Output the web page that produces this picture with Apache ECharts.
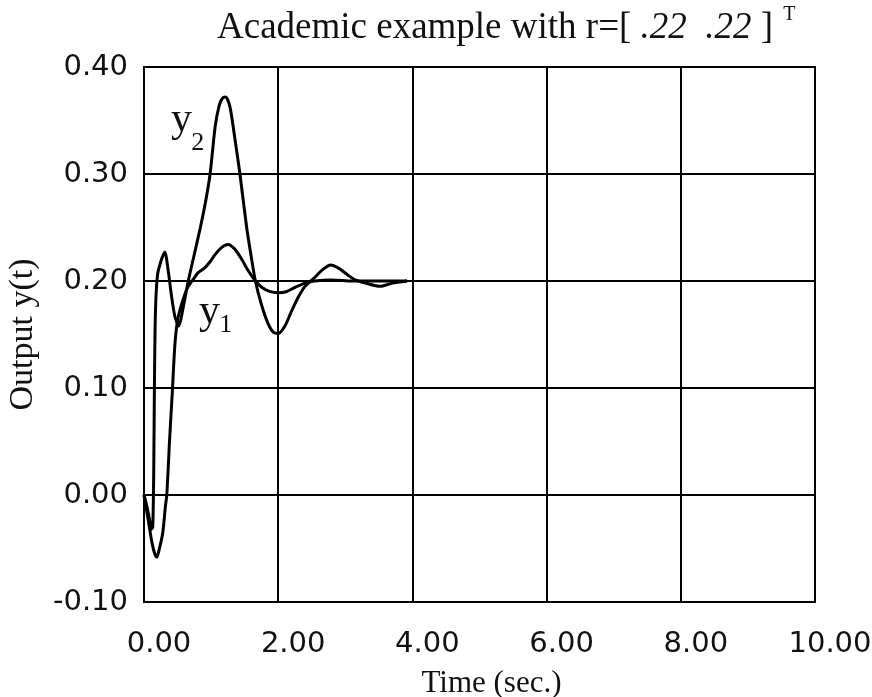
<!DOCTYPE html>
<html>
<head>
<meta charset="utf-8">
<script src="https://cdn.jsdelivr.net/npm/echarts@6/dist/echarts.min.js"></script>
<style>
  html, body { margin: 0; padding: 0; background: #fff; }
  #main { width: 872px; height: 697px; }
</style>
</head>
<body>
<div id="main"></div>
<script>
// y2: fast spike, then big overshoot
const t2 = [0, 0.04, 0.08, 0.11, 0.13, 0.145, 0.155, 0.17, 0.2, 0.25, 0.31, 0.36, 0.41, 0.46, 0.52,
  0.58, 0.66, 0.75, 0.84, 0.92, 0.985, 1.06, 1.12, 1.17, 1.21, 1.25, 1.29, 1.35, 1.43, 1.53, 1.6,
  1.66, 1.75, 1.85, 1.93, 2.0, 2.1, 2.2, 2.3, 2.4, 2.54, 2.65, 2.78, 2.9, 3.05, 3.15, 3.3, 3.52, 3.7, 3.92];
const y2 = [0, -0.01, -0.022, -0.032, -0.03, 0.02, 0.1, 0.17, 0.205, 0.218, 0.227, 0.21, 0.186, 0.167, 0.158,
  0.174, 0.2, 0.225, 0.25, 0.275, 0.3, 0.344, 0.364, 0.371, 0.372, 0.369, 0.36, 0.335, 0.3, 0.25, 0.222,
  0.2, 0.178, 0.16, 0.152, 0.151, 0.158, 0.172, 0.185, 0.195, 0.203, 0.21, 0.215, 0.212, 0.205, 0.201, 0.198, 0.195, 0.198, 0.2];

// y1: deep initial dip, mild overshoot
const t1 = [0, 0.04, 0.08, 0.12, 0.16, 0.19, 0.23, 0.28, 0.32, 0.34, 0.38, 0.42, 0.46, 0.5, 0.56,
  0.65, 0.75, 0.81, 0.9, 0.985, 1.05, 1.15, 1.25, 1.35, 1.45, 1.55, 1.66, 1.76, 1.88, 2.0, 2.12,
  2.25, 2.4, 2.54, 2.8, 3.1, 3.5, 3.92];
const y1 = [0, -0.015, -0.03, -0.045, -0.055, -0.058, -0.05, -0.035, -0.01, 0, 0.05, 0.094, 0.14, 0.163, 0.178,
  0.194, 0.203, 0.208, 0.212, 0.218, 0.224, 0.231, 0.234, 0.23, 0.221, 0.21, 0.2, 0.194, 0.19, 0.189, 0.19,
  0.194, 0.198, 0.2, 0.201, 0.2, 0.2, 0.2];

// curve labels (data coordinates)
const y2Label = [0.56, 0.35];
const y2Sub = [0.8, 0.328];
const y1Label = [0.975, 0.171];
const y1Sub = [1.22, 0.158];

const tickFont = 'DejaVu Sans';
const serif = 'Liberation Serif';

const zip = (ts, ys) => ts.map((t, i) => [t, ys[i]]);

const labelPoint = (coord, text, size) => ({
  coord: coord,
  symbolSize: 1,
  itemStyle: { color: 'rgba(0,0,0,0)' },
  label: {
    show: true, position: 'inside', formatter: text,
    fontFamily: serif, fontSize: size, color: '#111'
  }
});

const chart = echarts.init(document.getElementById('main'));
chart.setOption({
  backgroundColor: '#fff',
  animation: false,
  title: {
    left: 212, top: 2,
    text: '{a|Academic example with r=[ }{i|.22  .22}{a| ]}{sup|T}',
    textStyle: {
      fontWeight: 'normal',
      rich: {
        a: { fontFamily: serif, fontSize: 37, fontWeight: 'normal', color: '#111', lineHeight: 42, verticalAlign: 'middle' },
        i: { fontFamily: serif, fontSize: 37, fontWeight: 'normal', fontStyle: 'italic', color: '#111', lineHeight: 42, verticalAlign: 'middle' },
        sup: { fontFamily: serif, fontSize: 20, fontWeight: 'normal', color: '#111', verticalAlign: 'middle', lineHeight: 20, padding: [0, 0, 26, 10] }
      }
    }
  },
  grid: {
    left: 144, right: 57, top: 67, bottom: 95,
    outerBoundsMode: 'none',
    show: true, borderColor: '#000', borderWidth: 2
  },
  xAxis: {
    type: 'value', min: 0, max: 10, interval: 2,
    name: 'Time (sec.)', nameLocation: 'middle', nameGap: 66,
    nameTextStyle: { fontFamily: serif, fontSize: 31, color: '#111', padding: [0, 0, 0, 24] },
    axisLine: { lineStyle: { color: '#000', width: 2 } },
    axisTick: { show: false },
    axisLabel: {
      margin: 28, fontFamily: tickFont, fontSize: 29, color: '#111',
      padding: [0, 0, 0, 30],
      formatter: v => v.toFixed(2)
    },
    splitLine: { lineStyle: { color: '#000', width: 2 } }
  },
  yAxis: {
    type: 'value', min: -0.1, max: 0.4, interval: 0.1,
    name: 'Output y(t)', nameLocation: 'middle', nameGap: 104,
    nameTextStyle: { fontFamily: serif, fontSize: 34, color: '#111' },
    axisLine: { lineStyle: { color: '#000', width: 2 } },
    axisTick: { show: false },
    axisLabel: {
      margin: 16, fontFamily: tickFont, fontSize: 29, color: '#111',
      formatter: v => v.toFixed(2)
    },
    splitLine: { lineStyle: { color: '#000', width: 2 } }
  },
  series: [
    {
      name: 'y2', type: 'line', data: zip(t2, y2),
      showSymbol: false, smooth: 0.25,
      lineStyle: { color: '#000', width: 3 },
      markPoint: {
        silent: true,
        data: [labelPoint(y2Label, 'y', 42), labelPoint(y2Sub, '2', 26)]
      }
    },
    {
      name: 'y1', type: 'line', data: zip(t1, y1),
      showSymbol: false, smooth: 0.25,
      lineStyle: { color: '#000', width: 3 },
      markPoint: {
        silent: true,
        data: [labelPoint(y1Label, 'y', 42), labelPoint(y1Sub, '1', 26)]
      }
    }
  ]
});

window.addEventListener('resize', function () {
  chart.resize();
});
</script>
</body>
</html>
